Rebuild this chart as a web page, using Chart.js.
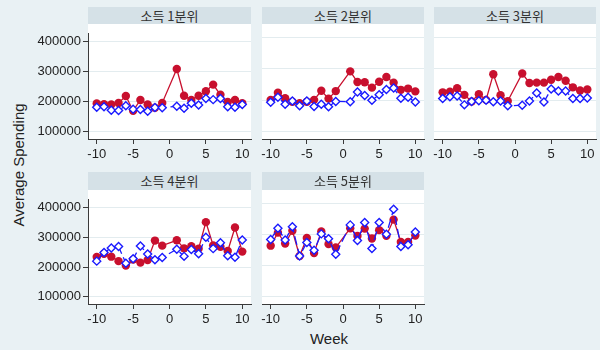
<!DOCTYPE html>
<html>
<head>
<meta charset="utf-8">
<script src="https://cdn.jsdelivr.net/npm/chart.js@4/dist/chart.umd.min.js"></script>
<style>
  html, body { margin:0; padding:0; }
  body { width:600px; height:350px; background:#e9f1f4; position:relative; overflow:hidden; font-family:"Liberation Sans", Arial, sans-serif; }
  .hdr { position:absolute; background:#d5e1e7; color:#333; font-family:"Noto Sans CJK KR", sans-serif; font-size:13px; text-align:center; }
  .plotbg { position:absolute; background:#ffffff; }
  canvas { position:absolute; }
  .ytitle { position:absolute; left:18px; top:165px; transform:translate(-50%,-50%) rotate(-90deg); font-size:15px; color:#222; white-space:nowrap; }
  .xtitle { position:absolute; left:329px; top:338px; transform:translate(-50%,-50%); font-size:15px; color:#222; white-space:nowrap; }
</style>
</head>
<body>
<div class="ytitle">Average Spending</div>
<div class="xtitle">Week</div>
<script>
// ---- data ----
const weeks = [-10,-9,-8,-7,-6,-5,-4,-3,-2,-1,1,2,3,4,5,6,7,8,9,10];
const panelTitles = ["소득 1분위","소득 2분위","소득 3분위","소득 4분위","소득 5분위"];
const xTicks = [-10,-5,0,5,10];
const yTicks = [100000,200000,300000,400000];

const red1 = [194000,192000,191000,196000,219000,170000,206000,191000,180000,196000,309000,220000,206000,220000,235000,257000,223000,199000,206000,195000];
const blue1 = [182000,183000,172000,171000,187000,175000,174000,168000,181000,180000,185000,178000,195000,189000,211000,207000,211000,183000,182000,191000];
const red2 = [201000,224000,206000,195000,190000,195000,201000,230000,205000,229000,292000,258000,257000,240000,259000,274000,256000,233000,237000,228000];
const blue2 = [193000,209000,187000,197000,182000,197000,180000,187000,179000,196000,195000,226000,215000,200000,217000,234000,239000,206000,209000,194000];
const red3 = [225000,227000,238000,217000,196000,219000,201000,283000,216000,197000,285000,255000,256000,256000,265000,274000,262000,241000,231000,234000];
const blue3 = [205000,211000,213000,185000,196000,198000,200000,195000,197000,182000,184000,197000,223000,194000,236000,229000,229000,205000,205000,207000];
const red4 = [234000,245000,235000,220000,205000,225000,215000,224000,289000,272000,290000,263000,270000,262000,351000,273000,268000,254000,333000,252000];
const blue4 = [220000,249000,264000,269000,213000,228000,271000,244000,225000,232000,260000,236000,259000,245000,300000,262000,282000,238000,233000,291000];
const red5 = [264000,306000,271000,312000,231000,289000,240000,310000,269000,258000,320000,295000,319000,287000,314000,296000,348000,276000,276000,297000];
const blue5 = [284000,320000,282000,325000,231000,274000,249000,302000,286000,236000,331000,281000,339000,255000,339000,301000,381000,261000,267000,308000];

const redSeries = [red1, red2, red3, red4, red5];
const blueSeries = [blue1, blue2, blue3, blue4, blue5];

// ---- layout ----
const colX = [[88,251],[262,424],[434,596]];
const rows = [{hTop:7, pTop:24, pBot:139},{hTop:172, pTop:190, pBot:304}];
const panelPos = [[0,0],[0,1],[0,2],[1,0],[1,1]];
const XH = 26, RP = 8;
const tickFont = {family:"'Liberation Sans', Arial, sans-serif", size:13};
const axisColor = '#3a3a3a';
const RED = '#c8102e', BLUE = '#1a1aff';

panelPos.forEach(([r,c], i) => {
  const [pl, pr] = colX[c];
  const row = rows[r];
  const pw = pr - pl, ph = row.pBot - row.pTop;
  const showY = c === 0;
  const YW = showY ? 52 : 12;

  const h = document.createElement('div');
  h.className = 'hdr';
  h.style.left = pl + 'px'; h.style.top = row.hTop + 'px';
  h.style.width = pw + 'px'; h.style.height = (row.pTop - row.hTop) + 'px';
  h.style.lineHeight = (row.pTop - row.hTop) + 'px';
  h.textContent = panelTitles[i];
  document.body.appendChild(h);

  const bg = document.createElement('div');
  bg.className = 'plotbg';
  bg.style.left = pl + 'px'; bg.style.top = row.pTop + 'px';
  bg.style.width = pw + 'px'; bg.style.height = ph + 'px';
  document.body.appendChild(bg);

  const cv = document.createElement('canvas');
  const cw = YW + pw + RP, ch = ph + XH;
  cv.width = cw; cv.height = ch;
  cv.style.width = cw + 'px'; cv.style.height = ch + 'px';
  cv.style.left = (pl - YW) + 'px'; cv.style.top = row.pTop + 'px';
  document.body.appendChild(cv);

  new Chart(cv.getContext('2d'), {
    type: 'line',
    data: {
      datasets: [
        {
          data: weeks.map((w,k) => ({x:w, y:blueSeries[i][k]})),
          borderColor: BLUE, borderWidth: 1.3, borderDash: [9,4],
          pointStyle: 'rectRot', pointRadius: 4, pointBorderWidth: 1.4,
          pointBorderColor: BLUE, pointBackgroundColor: '#ffffff',
          tension: 0, fill: false
        },
        {
          data: weeks.map((w,k) => ({x:w, y:redSeries[i][k]})),
          borderColor: RED, borderWidth: 1.3,
          pointStyle: 'circle', pointRadius: 4.2, pointBorderWidth: 0,
          pointBackgroundColor: RED, pointBorderColor: RED,
          tension: 0, fill: false
        }
      ]
    },
    options: {
      responsive: false, animation: false, devicePixelRatio: 1,
      layout: { padding: { left: 0, right: RP, top: 0, bottom: 0 } },
      plugins: { legend: {display:false}, tooltip: {enabled:false}, title: {display:false} },
      scales: {
        x: {
          type: 'linear', min: -11.2, max: 11.2,
          afterBuildTicks: s => { s.ticks = xTicks.map(v => ({value:v})); },
          afterFit: s => { s.height = XH; },
          grid: { drawOnChartArea: false, drawTicks: true, tickLength: 5, tickColor: axisColor, tickWidth: 1 },
          border: { display: true, color: axisColor, width: 1 },
          ticks: { font: tickFont, color: '#222', padding: 3, maxRotation: 0, autoSkip: false,
                   callback: v => String(v) }
        },
        y: {
          type: 'linear', min: 76000, max: 426000,
          afterBuildTicks: s => { s.ticks = yTicks.map(v => ({value:v})); },
          afterFit: s => { s.width = YW; },
          grid: { color: '#e3ecef', lineWidth: 1, drawTicks: showY, tickLength: 5, tickColor: axisColor },
          border: { display: showY, color: axisColor, width: 1 },
          ticks: { display: showY, font: tickFont, color: '#222', padding: 2,
                   callback: v => String(v) }
        }
      }
    }
  });
});
</script>
</body>
</html>
